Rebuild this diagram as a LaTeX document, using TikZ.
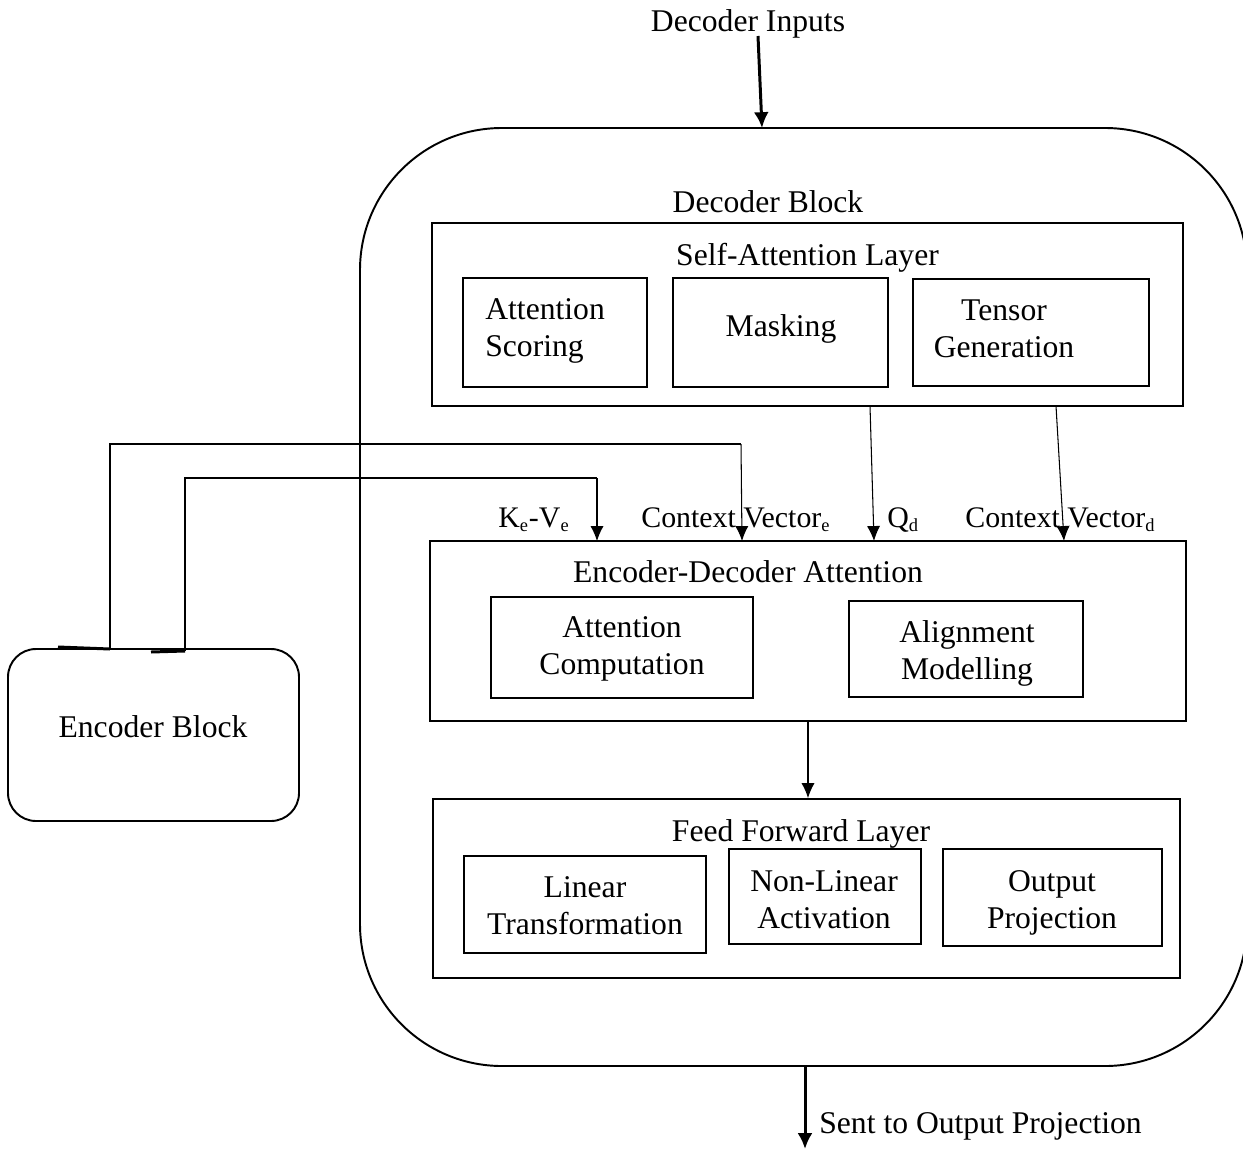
\documentclass[tikz,border=0pt]{standalone}
\usepackage{fontspec}
\setmainfont{Liberation Serif}
\usetikzlibrary{arrows.meta}
\newcommand{\lowidx}[1]{\textsubscript{\fontsize{10.5}{10.5}\selectfont #1}}
\tikzset{
  txt/.style={font=\fontsize{18}{20.5}\selectfont, inner sep=0pt, align=center},
  lbl/.style={font=\fontsize{17}{20}\selectfont, inner sep=0pt, anchor=base west},
  sz/.style n args={2}{minimum width=#1*0.02cm, minimum height=#2*0.02cm},
  box/.style={draw, line width=1.1pt, rectangle, inner sep=0pt},
  wire/.style={line width=1.1pt},
  thinarrow/.style={line width=0.6pt, -{Latex[length=8.5pt,width=7.5pt]}},
  boldarrow/.style={line width=1.7pt, -{Latex[length=9pt,width=8.5pt]}},
}
\begin{document}
\begin{tikzpicture}[x=0.02cm,y=-0.02cm]
\clip (0,0) rectangle (1243,1149);

% decoder block outline
\node[box, rounded corners=2.84cm, sz={887}{938}] (dec) at (803.5,597) {};
\node[txt, anchor=base] (decT) at (768,212) {Decoder Block};

% self-attention layer (two-line texts are placed by the baseline of their last line)
\node[box, sz={751}{183}] (sa) at (807.5,314.5) {};
\node[txt, anchor=base] (saT) at (807.5,265) {Self-Attention Layer};
\node[box, sz={184}{109}] (score) at (555,332.5) {};
\node[txt, align=left, anchor=base west] (scoreT) at (485,356) {Attention\\Scoring};
\node[box, sz={215}{109}] (mask) at (780.5,332.5) {};
\node[txt, anchor=base] (maskT) at (781,336) {Masking};
\node[box, sz={236}{107}] (tensor) at (1031,332.5) {};
\node[txt, anchor=base] (tensorT) at (1004,357) {Tensor\\Generation};

% encoder-decoder attention
\node[box, sz={756}{180}] (eda) at (808,631) {};
\node[txt, anchor=base] (edaT) at (748,582) {Encoder-Decoder Attention};
\node[box, sz={262}{101}] (comp) at (622,647.5) {};
\node[txt, anchor=base] (compT) at (622,674) {Attention\\Computation};
\node[box, sz={234}{96}] (alig) at (966,649) {};
\node[txt, anchor=base] (aligT) at (967,679) {Alignment\\Modelling};

% feed forward layer
\node[box, sz={747}{179}] (ff) at (806.5,888.5) {};
\node[txt, anchor=base] (ffT) at (801,841) {Feed Forward Layer};
\node[box, sz={242}{97}] (lin) at (585,904.5) {};
\node[txt, anchor=base] (linT) at (585,934) {Linear\\Transformation};
\node[box, sz={192}{95}] (nonlin) at (825,896.5) {};
\node[txt, anchor=base] (nonlinT) at (824,928) {Non-Linear\\Activation};
\node[box, sz={219}{97}] (outp) at (1052.5,897.5) {};
\node[txt, anchor=base] (outpT) at (1052,928) {Output\\Projection};

% encoder block
\node[box, rounded corners=0.56cm, sz={291}{172}] (enc) at (153.5,735) {};
\node[txt, anchor=base] (encT) at (153,737) {Encoder Block};

% inputs and outputs
\node[txt, anchor=base] (dinput) at (748,32) {Decoder Inputs};
\coordinate (dinTop) at (758,36);
\coordinate (dinBot) at (762,128);
\draw[boldarrow] (dinTop) -- (dinBot);

\coordinate (outTop) at (805,1066);
\coordinate (outBot) at (805,1149);
\draw[boldarrow] (outTop) -- (outBot);
\node[txt, anchor=base west] (outT) at (819,1133) {Sent to Output Projection};

% encoder to encoder-decoder attention
\coordinate (encA) at (110,649);
\coordinate (encB) at (185,651);
\coordinate (ctxeIn) at (742,541);
\coordinate (kvIn) at (597,541);
\draw[line width=1.7pt] (58,647) -- (encA);
\draw[line width=1.7pt] (151,652) -- (encB);
\draw[wire] (encA) -- (110,444) -- (741,444);
\draw[thinarrow] (741,444) -- (ctxeIn);
\draw[wire] (encB) -- (185,478) -- (597,478);
\draw[thinarrow] (597,478) -- (kvIn);

% self-attention to encoder-decoder attention
\coordinate (qTop) at (870,406);
\coordinate (qIn) at (874,541);
\coordinate (cdTop) at (1056,406);
\coordinate (cdIn) at (1064,541);
\draw[thinarrow] (qTop) -- (qIn);
\draw[thinarrow] (cdTop) -- (cdIn);

% encoder-decoder attention to feed forward
\draw[thinarrow] (eda.south) -- (eda.south |- ff.north);

% connector labels
\node[lbl] (kvT) at (498,527) {K\lowidx{e}-V\lowidx{e}};
\node[lbl] (ctxeT) at (641,527) {Context Vector\lowidx{e}};
\node[lbl] (qT) at (887,527) {Q\lowidx{d}};
\node[lbl] (cdT) at (965,527) {Context Vector\lowidx{d}};
\end{tikzpicture}
\end{document}
